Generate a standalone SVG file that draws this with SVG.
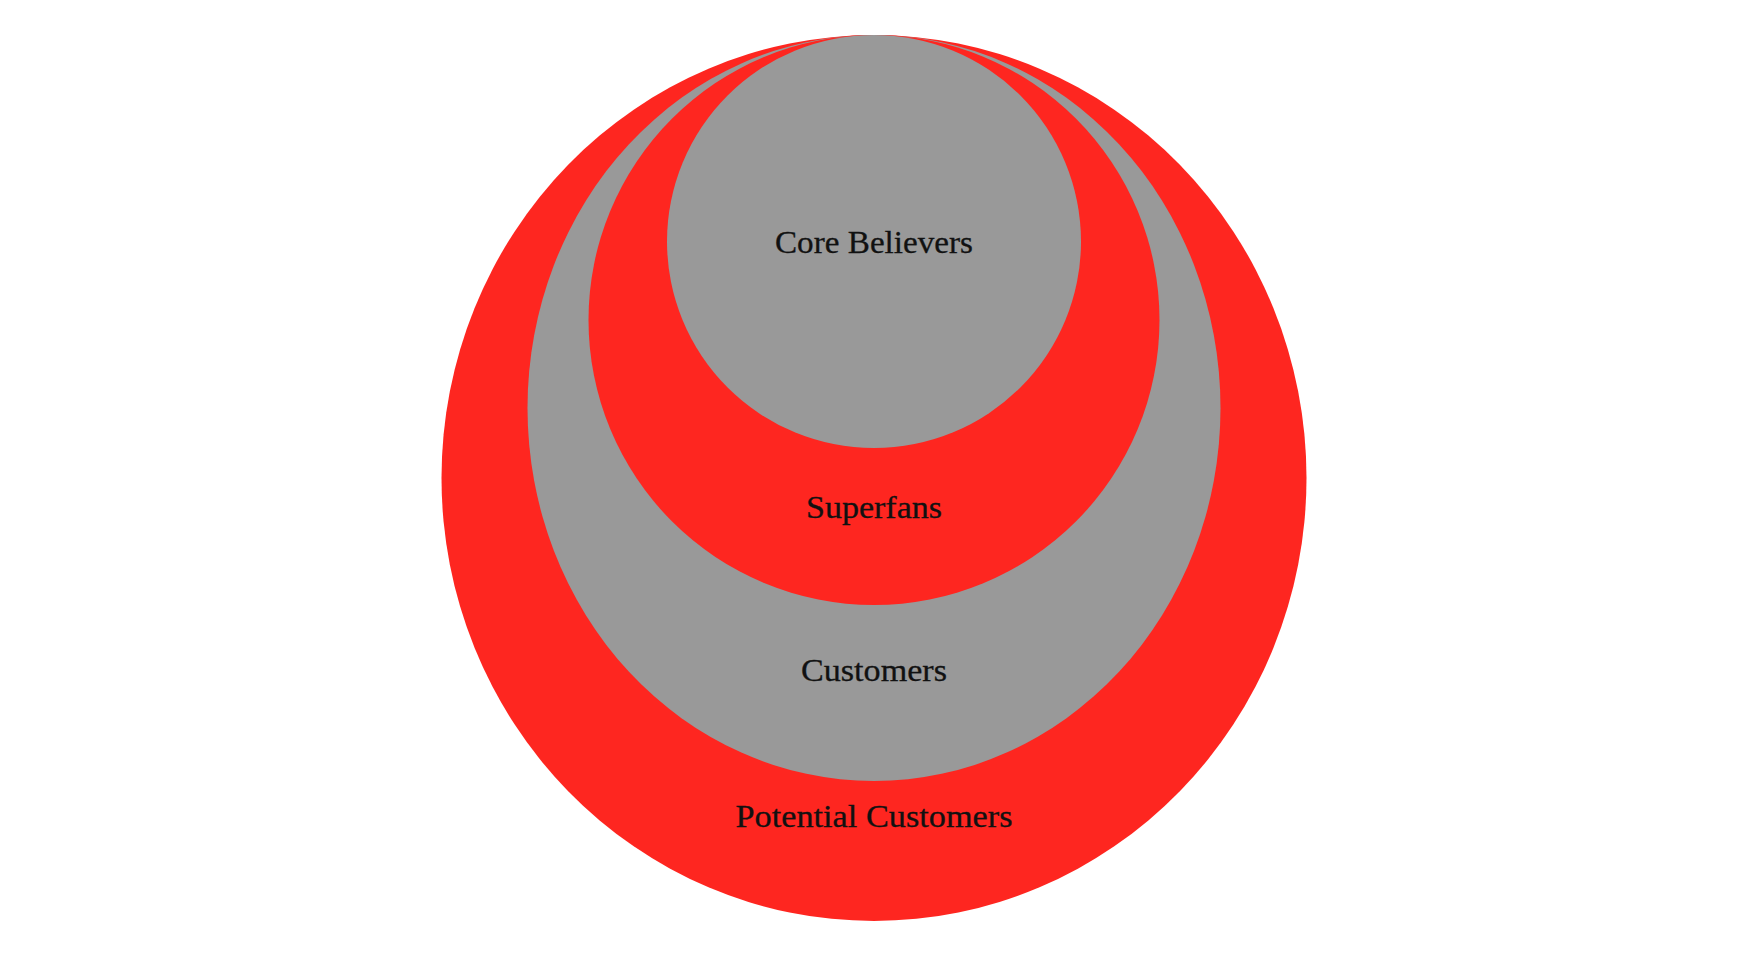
<svg xmlns="http://www.w3.org/2000/svg" width="1742" height="970" viewBox="0 0 1742 970">
<style>
.red{fill:#fe2620}
.gray{fill:#999999}
.lbl{font-family:"Liberation Serif","Times New Roman",serif;font-size:31px;fill:#111111;text-anchor:middle;stroke:#111111;stroke-width:0.3}
</style>
<rect width="1742" height="970" fill="#ffffff"/>
<g id="potential-customers">
<ellipse class="red" cx="874" cy="478" rx="432.5" ry="443"/>
<text class="lbl" x="874" y="827" textLength="277" lengthAdjust="spacingAndGlyphs">Potential Customers</text>
</g>
<g id="customers">
<ellipse class="gray" cx="874" cy="408" rx="346.5" ry="373"/>
<text class="lbl" x="874" y="681" textLength="146" lengthAdjust="spacingAndGlyphs">Customers</text>
</g>
<g id="superfans">
<ellipse class="red" cx="874" cy="320" rx="285.5" ry="285"/>
<text class="lbl" x="874" y="518" textLength="136" lengthAdjust="spacingAndGlyphs">Superfans</text>
</g>
<g id="core-believers">
<ellipse class="gray" cx="874" cy="241.5" rx="207" ry="206.5"/>
<text class="lbl" x="874" y="253" textLength="198" lengthAdjust="spacingAndGlyphs">Core Believers</text>
</g>
<g id="connectors"></g>
</svg>
